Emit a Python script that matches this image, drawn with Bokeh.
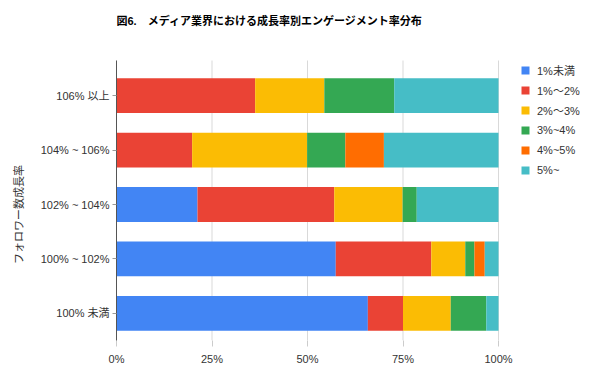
from bokeh.plotting import figure
from bokeh.models import (ColumnDataSource, Range1d, FixedTicker,
                          PrintfTickFormatter, Legend, LegendItem, Label)
from bokeh.embed import file_html
from bokeh.resources import INLINE

# Categories (bottom to top)
categories = ["100% 未満", "100% ~ 102%", "102% ~ 104%", "104% ~ 106%", "106% 以上"]
series_labels = ["1%未満", "1%～2%", "2%～3%", "3%~4%", "4%~5%", "5%~"]
series_colors = ["#4285F4", "#EA4335", "#FBBC04", "#34A853", "#FF6D01", "#46BDC6"]

under_1 = [65.8, 57.4, 21.2, 0.0, 0.0]
from_1_to_2 = [9.2, 25.0, 35.8, 19.8, 36.3]
from_2_to_3 = [12.5, 8.9, 17.9, 30.1, 18.1]
from_3_to_4 = [9.3, 2.4, 3.7, 10.0, 18.3]
from_4_to_5 = [0.0, 2.7, 0.0, 10.1, 0.0]
over_5 = [3.2, 3.6, 21.4, 30.0, 27.3]

x_ticks = [0, 25, 50, 75, 100]

title_text = "図6.　メディア業界における成長率別エンゲージメント率分布"
y_title = "フォロワー数成長率"

FONT = "Liberation Sans, Noto Sans CJK JP"

# ---- layout constants (pixels) ----
W, H = 600, 381
FRAME_LEFT = 116          # x of 0%
X100 = 498                # x of 100%
FRAME_BOTTOM = 340        # bottom of plotting area
CHART_TOP = 60            # top of gridlines / axis line
PX_PER_CAT = 54.4         # vertical pitch of a category
TITLE_Y = 20
AXIS_TITLE_PAD = "\u3000" * 8   # shifts the centred axis title down

pos = list(range(len(categories)))
y0 = -0.5
y_top_canvas = y0 + FRAME_BOTTOM / PX_PER_CAT
y_chart_top = y0 + (FRAME_BOTTOM - CHART_TOP) / PX_PER_CAT
x_end = 100.0 * (W - FRAME_LEFT) / (X100 - FRAME_LEFT)

keys = ["s0", "s1", "s2", "s3", "s4", "s5"]
src = ColumnDataSource(dict(pos=pos, s0=under_1, s1=from_1_to_2, s2=from_2_to_3,
                            s3=from_3_to_4, s4=from_4_to_5, s5=over_5))

p = figure(width=W, height=H,
           y_range=Range1d(y0, y_top_canvas),
           x_range=Range1d(0, x_end),
           output_backend="svg", toolbar_location=None,
           min_border_left=FRAME_LEFT, min_border_right=0,
           min_border_top=0, min_border_bottom=H - FRAME_BOTTOM)

# vertical gridlines limited to chart area
p.segment(x0=x_ticks, x1=x_ticks, y0=y0, y1=y_chart_top,
          line_color="#d9d9d9", line_width=1, level="underlay")

renderers = p.hbar_stack(keys, y="pos", height=0.64, color=series_colors,
                         source=src, line_width=0)

legend = Legend(items=[LegendItem(label=l, renderers=[r])
                       for l, r in zip(series_labels, renderers)],
                location=(520 - FRAME_LEFT, FRAME_BOTTOM - 60 - 120),
                margin=0, padding=0, spacing=0,
                glyph_width=10, glyph_height=10, label_height=20,
                label_standoff=7, label_text_font_size="11px",
                label_text_font=FONT, label_text_color="#333333",
                border_line_color=None, background_fill_alpha=0)
p.add_layout(legend, "center")

title = Label(x=0, y=y0 + (FRAME_BOTTOM - TITLE_Y) / PX_PER_CAT, text=title_text,
              text_font=FONT, text_font_size="11px", text_font_style="bold",
              text_color="#000000", text_baseline="middle", text_align="left")
p.add_layout(title)

p.outline_line_color = None
p.grid.grid_line_color = None

xa = p.xaxis[0]
xa.ticker = FixedTicker(ticks=x_ticks)
xa.formatter = PrintfTickFormatter(format="%d%%")
xa.axis_line_color = None
xa.major_tick_in = 0
xa.major_tick_out = 6
xa.major_tick_line_color = "#cccccc"
xa.minor_tick_line_color = None
xa.major_label_text_font = FONT
xa.major_label_text_font_size = "11px"
xa.major_label_text_color = "#333333"
xa.major_label_standoff = 6

ya = p.yaxis[0]
ya.ticker = FixedTicker(ticks=pos)
ya.major_label_overrides = {i: c for i, c in zip(pos, categories)}
ya.bounds = (y0 - 6 / PX_PER_CAT, y_chart_top)
ya.axis_line_color = "#555555"
ya.major_tick_in = 0
ya.major_tick_out = 4
ya.major_tick_line_color = "#999999"
ya.minor_tick_line_color = None
ya.major_label_text_font = FONT
ya.major_label_text_font_size = "11px"
ya.major_label_text_color = "#333333"
ya.major_label_standoff = 3
ya.axis_label = y_title + AXIS_TITLE_PAD
ya.axis_label_text_font = FONT
ya.axis_label_text_font_size = "11px"
ya.axis_label_text_font_style = "normal"
ya.axis_label_text_color = "#333333"
ya.axis_label_standoff = 13

open("out.html", "w").write(file_html(p, INLINE))
